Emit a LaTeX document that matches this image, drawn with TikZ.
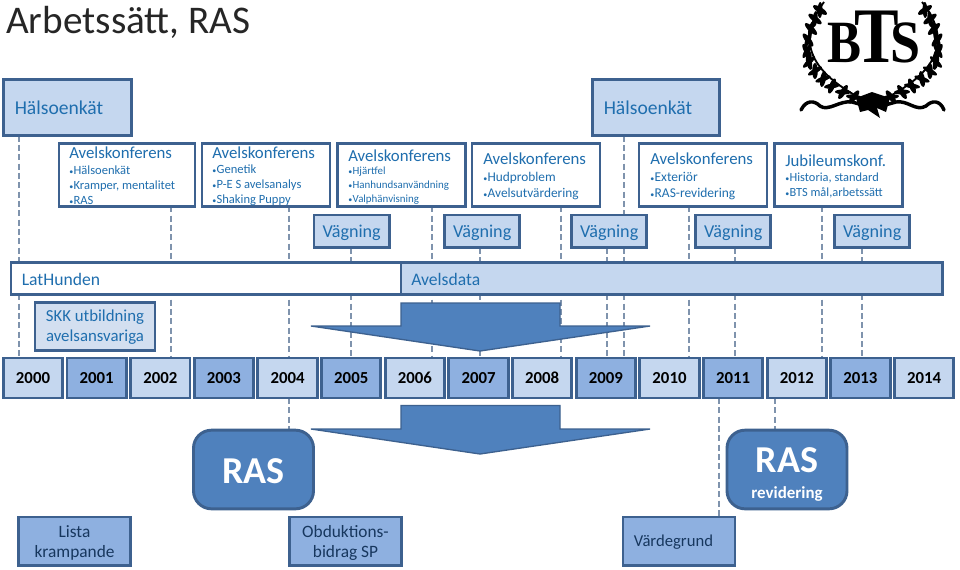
\documentclass[tikz,border=0pt]{standalone}
\usepackage{fontspec}
\usepackage{graphicx}
\setmainfont{Carlito}
\newfontfamily\logofont{Liberation Serif}
\usetikzlibrary{calc,backgrounds}
\definecolor{edgeb}{HTML}{3D618F}
\definecolor{lightb}{HTML}{C5D7EF}
\definecolor{midb}{HTML}{8EB0E0}
\definecolor{paleb}{HTML}{D3DFF0}
\definecolor{solidb}{HTML}{4F81BD}
\definecolor{txtb}{HTML}{1F6EAE}
\definecolor{darkt}{HTML}{17375E}
\definecolor{dashc}{HTML}{7F93AD}
\tikzset{
 bx/.style={draw=edgeb,line width=2.2pt,inner sep=0pt,outer sep=0pt,anchor=north west},
 lab/.style={text=txtb,inner sep=0pt,anchor=west,align=left},
 yearl/.style={bx,fill=lightb,minimum width=45pt,minimum height=30pt,font=\fontsize{12.6}{15}\selectfont\bfseries,text=black,anchor=center},
 yeard/.style={yearl,fill=midb},
 conn/.style={draw=dashc,line width=0.9pt,dash pattern=on 4.5pt off 2.5pt},
 leaf/.style={fill=black,draw=none},
 bottombox/.style={bx,fill=midb,minimum width=84pt,minimum height=36.5pt},
 bottomtext/.style={text=darkt,inner sep=0pt,align=center,font=\fontsize{13}{15}\selectfont},
 rasbox/.style={draw=edgeb,line width=2.2pt,fill=solidb,rounded corners=13.5pt,inner sep=0pt,outer sep=0pt,minimum width=90pt,minimum height=59pt},
}
\newcommand{\bigf}{\fontsize{12.6}{15}\selectfont}
\newcommand{\bul}[1]{{\fontsize{6}{6}\selectfont\textbullet}\hspace{0.3pt}#1}
\begin{document}
\begin{tikzpicture}[x=0.75pt,y=-0.75pt]
\useasboundingbox (0,0) rectangle (960,569);
% title
\node[anchor=west,inner sep=0pt,font=\fontsize{29.4}{32}\selectfont,text=black!85] (title) at (6,22) {Arbetssätt, RAS};
% Hälsoenkät
\node[bx,fill=lightb,minimum width=96pt,minimum height=42pt] (h1) at (3.5,79.5) {};
\node[lab,font=\fontsize{14.7}{18}\selectfont] (h1t) at (14.5,108) {Hälsoenkät};
\node[bx,fill=lightb,minimum width=95pt,minimum height=42pt] (h2) at (592.5,79.5) {};
\node[lab,font=\fontsize{14.7}{18}\selectfont] (h2t) at (603.5,108) {Hälsoenkät};
% conferences
\node[bx,fill=white,minimum width=102pt,minimum height=47pt] (a1) at (59,143.5) {};
\node[lab,font=\bigf] (a1t) at (69,153) {Avelskonferens};
\node[lab,font=\fontsize{9.4}{11.2}\selectfont] (a1l) at (69,185) {\bul{Hälsoenkät}\\\bul{Kramper, mentalitet}\\\bul{RAS}};
\node[bx,fill=white,minimum width=96pt,minimum height=47pt] (a2) at (202,143.5) {};
\node[lab,font=\bigf] (a2t) at (212,153) {Avelskonferens};
\node[lab,font=\fontsize{9.4}{11.2}\selectfont] (a2l) at (212,185) {\bul{Genetik}\\\bul{P-E S avelsanalys}\\\bul{Shaking Puppy}};
\node[bx,fill=white,minimum width=96pt,minimum height=47pt] (a3) at (337.5,143.5) {};
\node[lab,font=\bigf] (a3t) at (348,156) {Avelskonferens};
\node[lab,font=\fontsize{8.2}{10.3}\selectfont] (a3l) at (348,185.5) {\bul{Hjärtfel}\\\bul{Hanhundsanvändning}\\\bul{Valphänvisning}};
\node[bx,fill=white,minimum width=96pt,minimum height=47pt] (a4) at (472,143.5) {};
\node[lab,font=\bigf] (a4t) at (483,159) {Avelskonferens};
\node[lab,font=\fontsize{10}{12.6}\selectfont] (a4l) at (483,186) {\bul{Hudproblem}\\\bul{Avelsutvärdering}};
\node[bx,fill=white,minimum width=96pt,minimum height=47pt] (a5) at (639,143.5) {};
\node[lab,font=\bigf] (a5t) at (650,159) {Avelskonferens};
\node[lab,font=\fontsize{10.1}{12.6}\selectfont] (a5l) at (650,186) {\bul{Exteriör}\\\bul{RAS-revidering}};
\node[bx,fill=white,minimum width=96pt,minimum height=47pt] (a6) at (774.5,143.5) {};
\node[lab,font=\bigf] (a6t) at (785,161) {Jubileumskonf.};
\node[lab,font=\fontsize{9.3}{11.6}\selectfont] (a6l) at (785,185.5) {\bul{Historia, standard}\\\bul{BTS mål,arbetssätt}};
% Vägning
\foreach \n/\x in {v1/314,v2/444.5,v3/571.5,v4/695.5,v5/834.5}{
 \node[bx,fill=lightb,minimum width=56.5pt,minimum height=24.5pt] (\n) at (\x,215) {};
 \node[text=txtb,inner sep=0pt,font=\fontsize{13.6}{15}\selectfont] (\n t) at ($(\n.center)+(0,1)$) {Vägning};
}
% data bar
\node[bx,fill=white,minimum width=293pt,minimum height=24pt] (lat) at (11,262.5) {};
\node[lab,font=\fontsize{13.2}{15}\selectfont] (latt) at (21.5,279) {LatHunden};
\node[bx,fill=lightb,minimum width=406pt,minimum height=24pt] (avd) at (401,262.5) {};
\node[lab,font=\fontsize{13.2}{15}\selectfont] (avdt) at (411,279) {Avelsdata};
% SKK
\node[bx,fill=paleb,minimum width=90pt,minimum height=36pt] (skk) at (35,302.5) {};
\node[text=txtb,inner sep=0pt,align=center,font=\fontsize{12.6}{15}\selectfont] (skkt) at ($(skk.center)+(0,1)$) {SKK utbildning\\avelsansvariga};
% big arrows
\path[draw=edgeb,line width=1pt,fill=solidb,line join=miter] (401,303) -- (560,303) -- (560,326) -- (650,326) -- (480,351) -- (311,326) -- (401,326) -- cycle;
\path[draw=edgeb,line width=1pt,fill=solidb,line join=miter] (401,405.5) -- (560,405.5) -- (560,429) -- (650,429) -- (480,454) -- (311,429) -- (401,429) -- cycle;
% years
\foreach \i/\y/\st in {0/2000/yearl,1/2001/yeard,2/2002/yearl,3/2003/yeard,4/2004/yearl,5/2005/yeard,6/2006/yearl,7/2007/yeard,8/2008/yearl,9/2009/yeard,10/2010/yearl,11/2011/yeard,12/2012/yearl,13/2013/yeard,14/2014/yearl}{
 \node[\st,minimum width=44.5pt] (y\y) at ({33+\i*63.65},378) {\raisebox{-0.6pt}{\y}};
}
% RAS boxes
\node[rasbox] (ras) at (253.5,469.5) {};
\node[text=white,inner sep=0pt,font=\fontsize{28.5}{30}\selectfont\bfseries] (rast) at (253.5,471) {RAS};
\node[rasbox] (rasr) at (787,469.5) {};
\node[text=white,inner sep=0pt,font=\fontsize{28.5}{30}\selectfont\bfseries] (rasrt) at (787,460) {RAS};
\node[text=white,inner sep=0pt,font=\fontsize{12.7}{14}\selectfont\bfseries] (rasrs) at (787,494) {revidering};
% bottom boxes
\node[bottombox] (lk) at (18.5,517) {};
\node[bottomtext] (lkt) at ($(lk.center)+(0,1.5)$) {Lista\\krampande};
\node[bottombox] (ob) at (289.5,517) {};
\node[bottomtext] (obt) at ($(ob.center)+(0,1.5)$) {Obduktions-\\bidrag SP};
\node[bottombox] (vg) at (623,517) {};
\node[bottomtext,font=\fontsize{12.5}{15}\selectfont] (vgt) at (673.5,542) {Värdegrund};
% connectors behind everything
\begin{scope}[on background layer]
 \fill[white] (0,0) rectangle (960,569);
 \foreach \x/\s/\t in {19/h1/y2000,171/a1/y2002,289/a2/y2004,351/v1/y2005,432/a3/y2006,480/v2/y2007,561/a4/y2008,607/v3/y2009,624/h2/y2009,689/a5/y2010,735/v4/y2011,822/a6/y2013,862/v5/y2013,289/y2004/ras,719/y2011/vg,775/y2012/rasr}
  \draw[conn] (\x,0 |- \s.south) -- (\x,0 |- \t.north);
\end{scope}
% logo: wreath
\draw[black,line width=1.4pt] (824,2) .. controls (800,35) and (800,70) .. (872,104);
\draw[black,line width=1.4pt] (922,2) .. controls (948,35) and (948,70) .. (874,104);
\foreach \x/\y/\r in {820/10/-60,815/19/-65,811/29/-72,808/40/-80,807/51/-88,809/62/-105,815/71/-118,823/79/-128,832/86/-140,843/92/-150,854/97/-155}{
 \fill[leaf] (\x,\y) ellipse[x radius=8,y radius=2.8,rotate=\r+28];
 \fill[leaf] (\x,\y) ellipse[x radius=8,y radius=2.4,rotate=\r-32];
}
\foreach \x/\y/\r in {925/10/60,930/19/65,934/29/72,937/40/80,938/51/88,936/62/105,930/71/118,922/79/128,912/86/140,902/92/150,891/97/155}{
 \fill[leaf] (\x,\y) ellipse[x radius=8,y radius=2.8,rotate=\r-28];
 \fill[leaf] (\x,\y) ellipse[x radius=8,y radius=2.4,rotate=\r+32];
}
% logo: ribbon
\draw[black,line width=2.6pt,line cap=round] (801,110) .. controls (806,100) and (814,100) .. (820,106) .. controls (828,112) and (840,100) .. (852,102) .. controls (860,104) and (868,108) .. (874,100) .. controls (880,108) and (888,104) .. (896,102) .. controls (908,100) and (916,112) .. (926,106) .. controls (932,100) and (940,100) .. (944,110);
\fill[black] (856,98) -- (872,92) -- (890,98) -- (886,112) -- (877,108) -- (880,118) -- (868,110) -- (860,112) -- cycle;
% logo: letters
\node[inner sep=0pt,text=black,anchor=base,font=\logofont\bfseries] (bts) at (874,62) {\scalebox{0.85}[1]{\fontsize{45}{45}\selectfont B}\hspace{-5.5pt}\scalebox{0.85}[1]{\fontsize{59}{59}\selectfont T}\hspace{-6pt}\scalebox{0.9}[1]{\fontsize{45}{45}\selectfont S}};
\end{tikzpicture}
\end{document}
